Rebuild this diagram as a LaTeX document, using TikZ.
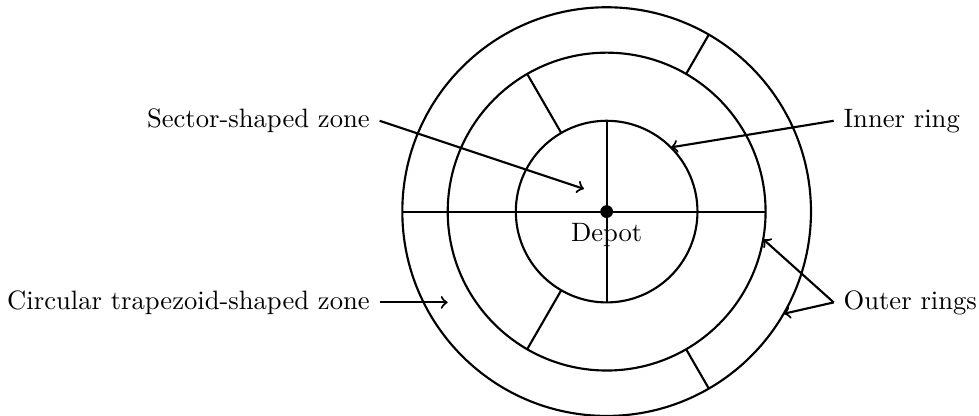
\documentclass[tikz,border=0pt]{standalone}
\usepackage{tikz}

\begin{document}
\begin{tikzpicture}[
  scale=0.6,
  thick,
  ]
  \useasboundingbox (-13.36,-4.5) rectangle (8.2,4.66);
  % three rings round the depot
  \draw (0,0) circle (2);
  \draw (0,0) circle (3.5);
  \draw (0,0) circle (4.5);
  % inner disk cut in four sectors
  \draw (-2,0) -- (2,0);
  \draw (0,-2) -- (0,2);
  % middle ring dividers
  \foreach \a in {0,120,180,240}
    \draw (\a:2) -- (\a:3.5);
  % outer ring dividers
  \foreach \a in {60,180,300}
    \draw (\a:3.5) -- (\a:4.5);

  % depot
  \node[circle, fill, inner sep=1.7pt] (hub) at (0,0) {};
  \node[below] (depot) at (0,-0.05) {Depot};

  % labels on the left
  \node[left] (sector) at (-5,2) {Sector-shaped zone};
  \node[left] (trapez) at (-5,-2) {Circular trapezoid-shaped zone};
  \coordinate (sectorend) at (-0.5,0.5);
  \coordinate (trapezend) at (-3.5,-2);
  \draw[->] (sector.east) -- (sectorend);
  \draw[->] (trapez.east) -- (trapezend);

  % labels on the right
  \node[right] (inner) at (5,2) {Inner ring};
  \node[right] (outer) at (5,-2) {Outer rings};
  \coordinate (innerend) at (45:2);
  \coordinate (outerend1) at (-10:3.5);
  \coordinate (outerend2) at (-30:4.5);
  \draw[->] (inner.west) -- (innerend);
  \draw[->] (outer.west) -- (outerend1);
  \draw[->] (outer.west) -- (outerend2);
\end{tikzpicture}
\end{document}
